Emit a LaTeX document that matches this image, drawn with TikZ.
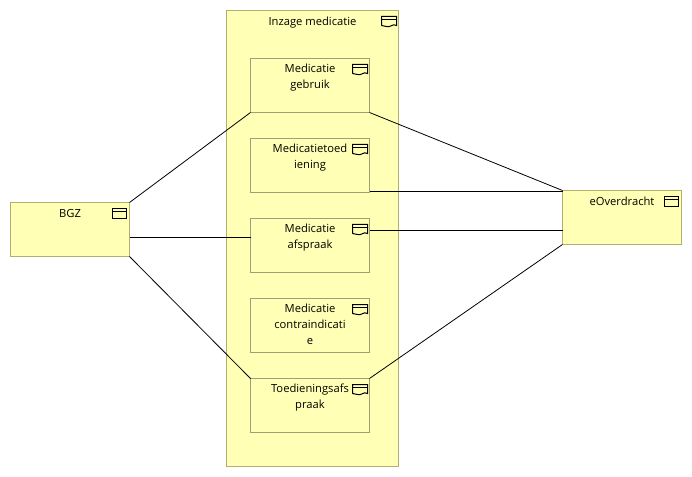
\documentclass[tikz,border=0pt]{standalone}
\usepackage{fontspec}
\setmainfont{Open Sans}
\definecolor{boxfill}{HTML}{FFFFB5}
\definecolor{boxline}{HTML}{B0B070}
\definecolor{subline}{HTML}{A0A078}
\tikzset{
  box/.style={draw=boxline, fill=boxfill, line width=0.75pt, inner sep=0pt, outer sep=0pt, anchor=north west},
  appbox/.style={box, minimum width=89.25pt, minimum height=40.5pt},
  groupbox/.style={box, minimum width=129pt, minimum height=342pt},
  subbox/.style={box, draw=subline, minimum width=89.25pt, minimum height=40.5pt},
  lbl/.style={anchor=north, align=center, inner sep=0pt, font=\fontsize{8.4}{12}\selectfont, text=black},
  link/.style={draw=black, line width=0.6pt},
  appicon/.pic={
    \draw[black, line width=0.75pt] (-17,6) rectangle (-3,16);
    \draw[black, line width=0.75pt] (-17,9.5) -- (-3,9.5);
  },
  repicon/.pic={
    \draw[black, line width=0.75pt] (-17,15) -- (-17,6) -- (-2,6) -- (-2,15)
      .. controls (-6,12.5) and (-8,17.5) .. (-12,16) .. controls (-14,15.5) .. (-17,15);
    \draw[black, line width=0.75pt] (-17,9) -- (-2,9);
  },
}
\begin{document}
\begin{tikzpicture}[x=0.75pt, y=-0.75pt]
\useasboundingbox (0,0) rectangle (692,477);
% boxes
\node[groupbox] (inzage) at (226.5,10.5) {};
\node[appbox] (bgz) at (10.5,202.5) {};
\node[appbox] (eoverdracht) at (562.5,190.5) {};
\node[subbox] (gebruik) at (250.5,58.5) {};
\node[subbox] (toediening) at (250.5,138.5) {};
\node[subbox] (afspraak) at (250.5,218.5) {};
\node[subbox] (contra) at (250.5,298.5) {};
\node[subbox] (toedafspraak) at (250.5,378.5) {};
% labels
\node[lbl] (inzagelbl) at ([yshift=-5pt]inzage.north) {Inzage medicatie};
\node[lbl] (bgzlbl) at ([yshift=-5pt]bgz.north) {BGZ};
\node[lbl] (eoverdrachtlbl) at ([yshift=-5pt]eoverdracht.north) {eOverdracht};
\node[lbl] (gebruiklbl) at ([yshift=-4pt]gebruik.north) {Medicatie\\gebruik};
\node[lbl] (toedieninglbl) at ([yshift=-4pt]toediening.north) {Medicatietoed\\iening};
\node[lbl] (afspraaklbl) at ([yshift=-4pt]afspraak.north) {Medicatie\\afspraak};
\node[lbl] (contralbl) at ([yshift=-4pt]contra.north) {Medicatie\\contraindicati\\e};
\node[lbl] (toedafspraaklbl) at ([yshift=-4pt]toedafspraak.north) {Toedieningsafs\\praak};
% icons
\pic at (inzage.north east) {repicon};
\pic at (gebruik.north east) {repicon};
\pic at (toediening.north east) {repicon};
\pic at (afspraak.north east) {repicon};
\pic at (contra.north east) {repicon};
\pic at (toedafspraak.north east) {repicon};
\pic at (bgz.north east) {appicon};
\pic at (eoverdracht.north east) {appicon};
% connectors
\coordinate (bgzmid) at ([yshift=-6pt]bgz.east);
\coordinate (toedstart) at ([yshift=0.75pt]toediening.south east);
\coordinate (eovmid) at ([yshift=-10pt]eoverdracht.west);
\draw[link] (bgz.north east) -- (gebruik.south west);
\draw[link] (bgzmid) -- (afspraak.west |- bgzmid);
\draw[link] (bgz.south east) -- (toedafspraak.north west);
\draw[link] (gebruik.south east) -- (eoverdracht.north west);
\draw[link] (toedstart) -- (eoverdracht.west |- toedstart);
\draw[link] (afspraak.east |- eovmid) -- (eovmid);
\draw[link] (toedafspraak.north east) -- (eoverdracht.south west);
\end{tikzpicture}
\end{document}
